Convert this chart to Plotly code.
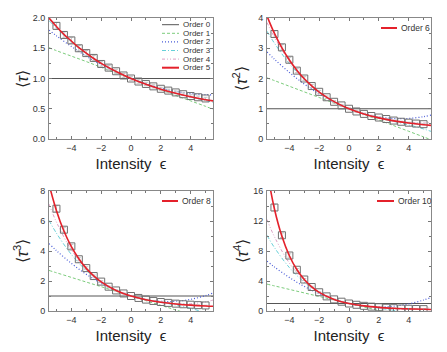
import plotly.graph_objects as go
from plotly.subplots import make_subplots

# sample grid for the truncated expansions
eps = [-5.5, -5, -4, -3, -2, -1, 0, 1, 2, 3, 4, 5, 5.5]
# grid for the full (red) curves
eps_red = [-5.5, -5, -4.5, -4, -3.5, -3, -2.5, -2, -1, 0, 1, 2, 3, 4, 5, 5.5]
# measured points
eps_data = [-5, -4.5, -4, -3.5, -3, -2.5, -2, -1.5, -1, -0.5, 0,
            0.5, 1, 1.5, 2, 2.5, 3, 3.5, 4, 4.5, 5]

# <tau>
t1_o1 = [1.51, 1.46, 1.37, 1.28, 1.185, 1.09, 1.0, 0.91, 0.815, 0.72, 0.63, 0.54, 0.49]
t1_o2 = [1.80, 1.705, 1.53, 1.37, 1.23, 1.106, 1.0, 0.911, 0.84, 0.787, 0.751, 0.733, 0.73]
t1_o3 = [1.958, 1.83, 1.607, 1.415, 1.252, 1.115, 1.0, 0.904, 0.823, 0.753, 0.691, 0.634, 0.606]
t1_o4 = [1.988, 1.85, 1.615, 1.418, 1.253, 1.115, 1.0, 0.904, 0.823, 0.756, 0.70, 0.654, 0.636]
t1_red = [2.00, 1.86, 1.73, 1.62, 1.51, 1.42, 1.33, 1.25, 1.115, 1.0, 0.904, 0.823, 0.755, 0.698, 0.65, 0.63]
t1_data = [1.87, 1.72, 1.63, 1.50, 1.42, 1.34, 1.24, 1.18, 1.12, 1.05, 1.0,
           0.95, 0.91, 0.87, 0.83, 0.80, 0.77, 0.74, 0.71, 0.69, 0.67]

# <tau^2>
t2_o1 = [2.02, 1.93, 1.744, 1.558, 1.372, 1.186, 1.0, 0.814, 0.628, 0.442, 0.256, 0.07, -0.023]
t2_o2 = [2.877, 2.638, 2.20, 1.818, 1.49, 1.218, 1.0, 0.838, 0.73, 0.678, 0.68, 0.738, 0.787]
t2_o3 = [3.562, 3.167, 2.493, 1.96, 1.547, 1.233, 1.0, 0.827, 0.693, 0.58, 0.467, 0.333, 0.253]
t2_o4 = [3.852, 3.365, 2.574, 1.986, 1.552, 1.233, 1.0, 0.827, 0.698, 0.606, 0.548, 0.531, 0.543]
t2_red = [4.065, 3.49, 3.01, 2.61, 2.276, 1.99, 1.755, 1.55, 1.234, 1.0, 0.827, 0.698, 0.60, 0.527, 0.472, 0.45]
t2_data = [3.47, 3.03, 2.62, 2.26, 2.0, 1.75, 1.56, 1.38, 1.23, 1.11, 1.0,
           0.91, 0.83, 0.76, 0.71, 0.66, 0.61, 0.57, 0.54, 0.51, 0.49]

# <tau^3>
t3_o1 = [2.705, 2.55, 2.24, 1.93, 1.62, 1.31, 1.0, 0.69, 0.38, 0.07, -0.24, -0.55, -0.705]
t3_o2 = [4.495, 4.025, 3.176, 2.449, 1.844, 1.361, 1.0, 0.761, 0.644, 0.649, 0.776, 1.025, 1.195]
t3_o3 = [6.043, 5.188, 3.771, 2.70, 1.918, 1.37, 1.0, 0.752, 0.57, 0.398, 0.181, -0.138, -0.353]
t3_o4 = [7.128, 5.929, 4.075, 2.796, 1.937, 1.371, 1.0, 0.753, 0.589, 0.494, 0.485, 0.603, 0.732]
t3_red = [8.45, 6.69, 5.33, 4.29, 3.48, 2.84, 2.34, 1.94, 1.372, 1.0, 0.753, 0.585, 0.47, 0.389, 0.333, 0.312]
t3_data = [6.82, 5.42, 4.31, 3.45, 2.86, 2.33, 1.96, 1.62, 1.37, 1.17, 1.0,
           0.87, 0.76, 0.67, 0.60, 0.54, 0.49, 0.45, 0.42, 0.39, 0.37]

# <tau^4>
t4_o1 = [3.585, 3.35, 2.88, 2.41, 1.94, 1.47, 1.0, 0.53, 0.06, -0.41, -0.88, -1.35, -1.585]
t4_o2 = [6.65, 5.87, 4.47, 3.282, 2.308, 1.548, 1.0, 0.666, 0.544, 0.636, 0.942, 1.46, 1.80]
t4_o3 = [10.095, 8.458, 5.795, 3.841, 2.474, 1.569, 1.0, 0.645, 0.378, 0.077, -0.383, -1.128, -1.645]
t4_o4 = [12.2, 9.90, 6.384, 4.027, 2.511, 1.571, 1.0, 0.647, 0.415, 0.263, 0.206, 0.31, 0.455]
t4_red = [18.78, 13.6, 9.96, 7.37, 5.53, 4.19, 3.21, 2.48, 1.541, 1.0, 0.679, 0.482, 0.358, 0.278, 0.225, 0.2065]
t4_data = [13.8, 10.1, 7.4, 5.5, 4.2, 3.2, 2.5, 1.95, 1.55, 1.24, 1.0,
           0.83, 0.69, 0.58, 0.50, 0.43, 0.38, 0.33, 0.30, 0.27, 0.25]

panels = [
    (t1_o1, t1_o2, t1_o3, t1_o4, t1_red, t1_data, "Order 5", 2, 0.5, "⟨<i>τ</i>⟩"),
    (t2_o1, t2_o2, t2_o3, t2_o4, t2_red, t2_data, "Order 6", 4, 1, "⟨<i>τ</i><sup>2</sup>⟩"),
    (t3_o1, t3_o2, t3_o3, t3_o4, t3_red, t3_data, "Order 8", 8, 2, "⟨<i>τ</i><sup>3</sup>⟩"),
    (t4_o1, t4_o2, t4_o3, t4_o4, t4_red, t4_data, "Order 10", 16, 4, "⟨<i>τ</i><sup>4</sup>⟩"),
]

ORDER0 = ("Order 0", "#555555", "solid", 1)
order_styles = [
    ("Order 1", "#7ccc7c", "3px,2px", 1),
    ("Order 2", "#4a5cd8", "1px,2px", 1.2),
    ("Order 3", "#66d0d8", "4px,2px,1px,2px", 1),
    ("Order 4", "#dca0c4", "3px,2px,1px,2px,1px,2px", 1),
]
RED = "#e4212b"

FONT = "Arial, Liberation Sans, sans-serif"
W, H = 447, 352
OFF = 8  # the page body adds an 8px margin around the plot


def px(x):
    return (x - OFF) / W


def py(y):
    return 1 - (y - OFF) / H


fig = make_subplots(rows=2, cols=2)

xdom = [[px(49), px(213)], [px(267), px(431)]]
ydom = [[py(139), py(18)], [py(311), py(191)]]
ytitle_x = [22.5, 241, 21, 241]

for i, (o1, o2, o3, o4, red, data, red_name, ymax, ydt, ytitle) in enumerate(panels):
    row, col = i // 2 + 1, i % 2 + 1

    fig.add_trace(go.Scatter(x=[eps[0], eps[-1]], y=[1, 1], mode="lines",
                             line=dict(color=ORDER0[1], width=1),
                             name="Order 0", showlegend=False),
                  row=row, col=col)
    for (nm, colr, dash, wd), ys in zip(order_styles, [o1, o2, o3, o4]):
        fig.add_trace(go.Scatter(x=eps, y=ys, mode="lines", line_shape="spline",
                                 line=dict(color=colr, width=wd, dash=dash),
                                 name=nm, showlegend=False),
                      row=row, col=col)
    fig.add_trace(go.Scatter(x=eps_data, y=data, mode="markers",
                             marker=dict(symbol="square-open", size=7,
                                         color="#707070", line=dict(width=1)),
                             error_y=dict(type="percent", value=3, color="#c4c4c4",
                                          thickness=1, width=2),
                             showlegend=False),
                  row=row, col=col)
    fig.add_trace(go.Scatter(x=eps_red, y=red, mode="lines", line_shape="spline",
                             line=dict(color=RED, width=1.6),
                             name=red_name, showlegend=False),
                  row=row, col=col)

    fig.update_xaxes(domain=xdom[col - 1], range=[-5.5, 5.5], automargin=False,
                     tickvals=[-4, -2, 0, 2, 4],
                     ticks="inside", ticklen=3, tickcolor="#777777",
                     minor=dict(dtick=1, ticks="inside", ticklen=2, tickcolor="#777777"),
                     showline=True, linecolor="#888888", linewidth=1, mirror="allticks",
                     showgrid=False, zeroline=False,
                     tickfont=dict(size=9, color="#333333", family=FONT),
                     title=dict(text="Intensity  ϵ", standoff=6,
                                font=dict(size=15, color="#222222", family=FONT)),
                     row=row, col=col)
    fig.update_yaxes(domain=ydom[row - 1], range=[0, ymax], dtick=ydt, automargin=False,
                     tickformat=".1f" if i == 0 else "d",
                     ticks="inside", ticklen=3, tickcolor="#777777",
                     minor=dict(dtick=ydt / 2, ticks="inside", ticklen=2, tickcolor="#777777"),
                     showline=True, linecolor="#888888", linewidth=1, mirror="allticks",
                     showgrid=False, zeroline=False, ticklabelstandoff=1,
                     tickfont=dict(size=9, color="#333333", family=FONT),
                     row=row, col=col)
    ymid = (ydom[row - 1][0] + ydom[row - 1][1]) / 2
    fig.add_annotation(text=ytitle, xref="paper", yref="paper",
                       x=px(ytitle_x[i]), y=ymid, textangle=-90,
                       xanchor="center", yanchor="middle", showarrow=False,
                       font=dict(size=16, color="#222222", family=FONT))


# hand-drawn legends (line sample from x0 to x1 at height y, in window pixels)
def legend_entry(name, color, dash, width, x0, x1, y, size=8.5):
    fig.add_shape(type="line", xref="paper", yref="paper",
                  x0=px(x0), x1=px(x1), y0=py(y), y1=py(y),
                  line=dict(color=color, dash=dash, width=width))
    fig.add_annotation(text=name, xref="paper", yref="paper", x=px(x1 + 2), y=py(y),
                       xanchor="left", yanchor="middle", showarrow=False,
                       font=dict(size=size, color="#333333", family=FONT))


leg1 = [ORDER0] + order_styles + [("Order 5", RED, "solid", 2)]
for k, (nm, colr, dash, wd) in enumerate(leg1):
    legend_entry(nm, colr, dash, wd, 162, 179, 24.7 + k * 8.6, size=8)
legend_entry("Order 6", RED, "solid", 2, 381, 397, 28)
legend_entry("Order 8", RED, "solid", 2, 162, 178, 201)
legend_entry("Order 10", RED, "solid", 2, 377, 394, 201)

fig.update_layout(
    width=W, height=H,
    margin=dict(l=0, r=0, t=0, b=0),
    paper_bgcolor="white", plot_bgcolor="white",
    showlegend=False,
)

fig.write_html("out.html")
